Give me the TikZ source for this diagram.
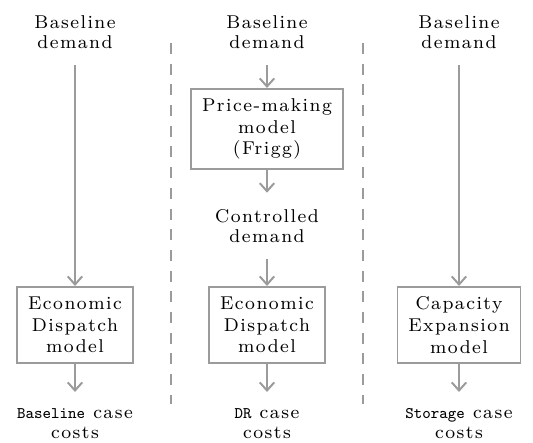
\documentclass[tikz,border=0pt]{standalone}
\usepackage{fontspec}
\setmainfont{lmroman8-regular.otf}[LetterSpace=8,BoldFont=lmroman10-bold.otf]
\usetikzlibrary{arrows.meta}
\definecolor{cline}{RGB}{155,155,155}
\newcommand{\codetxt}[1]{{\fontsize{9}{10}\ttfamily #1}}

\begin{document}
\begin{tikzpicture}[
  x=0.5556pt,y=-0.5556pt,
  >={Straight Barb[length=4.5pt,width=8pt]},
  txt/.style={align=center,inner xsep=2pt,inner ysep=9pt,font=\fontsize{10.3}{11.2}\selectfont},
  mdl/.style={draw=cline,line width=1.1pt,align=center,inner xsep=6pt,inner ysep=5.5pt,font=\fontsize{10.3}{12}\selectfont},
  arrow/.style={->,draw=cline,line width=1.1pt},
  sep/.style={draw=cline,line width=1.1pt,dash pattern=on 6.1pt off 5.4pt}
]
\useasboundingbox (0,0) rectangle (533,442);

% ---- baseline case ----
\node[txt,anchor=south] (bltop) at (75,65) {Baseline\\demand};
\node[mdl,anchor=north] (blmod) at (75,286) {Economic\\Dispatch\\model};
\node[txt,anchor=north] (blcost) at (75,392) {\codetxt{Baseline} case\\costs};
\draw[arrow] (bltop) -- (blmod);
\draw[arrow] (blmod) -- (blcost);

% ---- DR case ----
\node[txt,anchor=south] (drtop) at (267,65) {Baseline\\demand};
\node[mdl,anchor=north] (frigg) at (267,88) {Price-making\\model\\(Frigg)};
\node[txt] (ctrl) at (267,226) {Controlled\\demand};
\node[mdl,anchor=north] (drmod) at (267,286) {Economic\\Dispatch\\model};
\node[txt,anchor=north] (drcost) at (267,392) {\codetxt{DR} case\\costs};
\draw[arrow] (drtop) -- (frigg);
\draw[arrow] (frigg) -- (ctrl);
\draw[arrow] (ctrl) -- (drmod);
\draw[arrow] (drmod) -- (drcost);

% ---- storage case ----
\node[txt,anchor=south] (sttop) at (459,65) {Baseline\\demand};
\node[mdl,anchor=north] (stmod) at (459,286) {Capacity\\Expansion\\model};
\node[txt,anchor=north] (stcost) at (459,392) {\codetxt{Storage} case\\costs};
\draw[arrow] (sttop) -- (stmod);
\draw[arrow] (stmod) -- (stcost);

% ---- separators ----
\draw[sep] (171,43) -- (171,404);
\draw[sep] (363,43) -- (363,404);
\end{tikzpicture}
\end{document}
